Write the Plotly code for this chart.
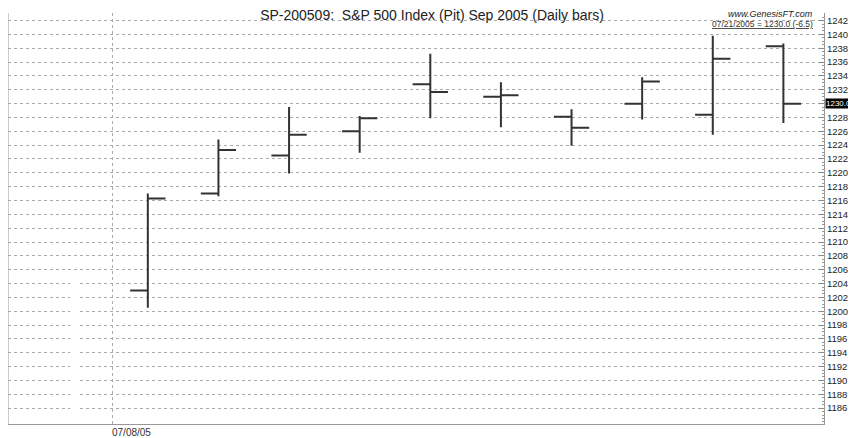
import plotly.graph_objects as go

# daily bars, 07/08/2005 .. 07/21/2005
dates = ["07/08/05", "07/11/05", "07/12/05", "07/13/05", "07/14/05",
         "07/15/05", "07/18/05", "07/19/05", "07/20/05", "07/21/05"]
opens = [1203.0, 1217.0, 1222.5, 1226.0, 1232.8, 1231.0, 1228.1, 1230.0, 1228.4, 1238.3]
highs = [1217.0, 1224.8, 1229.5, 1228.2, 1237.2, 1233.1, 1229.2, 1233.8, 1239.8, 1238.7]
lows = [1200.5, 1216.6, 1219.9, 1222.9, 1227.9, 1226.6, 1223.9, 1227.7, 1225.5, 1227.2]
closes = [1216.3, 1223.3, 1225.5, 1227.9, 1231.7, 1231.2, 1226.5, 1233.2, 1236.5, 1230.0]

# price axis labels (the last close box covers 1230)
y_ticks = list(range(1186, 1244, 2))
y_text = ["" if v == 1230 else str(v) for v in y_ticks]

xs = list(range(len(dates)))
font = "Liberation Sans, Arial, sans-serif"
dark = "#333333"

fig = go.Figure(go.Ohlc(
    x=xs, open=opens, high=highs, low=lows, close=closes,
    increasing=dict(line=dict(color=dark, width=2)),
    decreasing=dict(line=dict(color=dark, width=2)),
    tickwidth=0.25, hoverinfo="skip", showlegend=False,
))

# page body has an 8px margin, so the figure is a bit smaller than the window
fig.update_layout(
    width=848, height=430,
    margin=dict(l=0, r=32, t=5, b=14),
    paper_bgcolor="white", plot_bgcolor="white",
    font=dict(family=font, size=10, color="#222"),
    title=dict(text="SP-200509:  S&P 500 Index (Pit) Sep 2005 (Daily bars)",
               x=0.5, xanchor="center", y=0.995, yanchor="top", pad=dict(t=0, b=0),
               font=dict(size=14, color="#222")),
    showlegend=False,
)

fig.update_xaxes(range=[-1.98, 9.575], showgrid=False, zeroline=False,
                 showticklabels=False, ticks="", rangeslider=dict(visible=False),
                 showline=True, linecolor="#999", linewidth=1)

fig.update_yaxes(range=[1183.7, 1243.1], side="right",
                 tickmode="array", tickvals=y_ticks, ticktext=y_text,
                 showgrid=True, gridcolor="#aaaaaa", griddash="dot", gridwidth=1,
                 zeroline=False, showline=True, linecolor="#999", linewidth=1,
                 ticks="inside", ticklen=5, tickcolor="#888",
                 minor=dict(tickmode="linear", tick0=1184, dtick=0.5, ticklen=2,
                            tickcolor="#999", ticks="inside", showgrid=False),
                 tickfont=dict(size=9.5, color="#222"))

# left frame line and date separator
fig.add_shape(type="line", xref="paper", yref="paper", x0=0, x1=0, y0=0, y1=1,
              line=dict(color="#999", width=1))
fig.add_shape(type="line", xref="x", yref="paper", x0=-0.5, x1=-0.5, y0=0, y1=1,
              line=dict(color="#aaaaaa", width=1, dash="dot"))
fig.add_shape(type="rect", xref="x", yref="y", x0=-1.1, x1=-0.97, y0=1184.5, y1=1204.4,
              fillcolor="white", line=dict(width=0), layer="above")

fig.add_annotation(x=-0.5, xref="x", y=0, yref="paper", yshift=-1, xshift=-3,
                   text=dates[0], showarrow=False, xanchor="left", yanchor="top",
                   font=dict(size=10, color="#333"))

fig.add_annotation(x=1, xref="paper", y=1, yref="paper", yshift=6, xshift=-9,
                   text="<i>www.GenesisFT.com</i>", showarrow=False,
                   xanchor="right", yanchor="top", font=dict(size=9, color="#222"))
chg = closes[-1] - closes[-2]
fig.add_annotation(x=1, xref="paper", y=1, yref="paper", yshift=-4, xshift=-9,
                   text="<u>07/21/2005 = %.1f (%.1f)</u>" % (closes[-1], chg),
                   showarrow=False, xanchor="right", yanchor="top",
                   font=dict(size=8.5, color="#333"))

# last close marker on the price axis
fig.add_annotation(x=1, xref="paper", y=closes[-1], yref="y", xshift=1,
                   text="%.1f" % closes[-1], showarrow=False, xanchor="left",
                   yanchor="middle", bgcolor="black", borderpad=0,
                   font=dict(size=8, color="white"))

fig.write_html("out.html")
